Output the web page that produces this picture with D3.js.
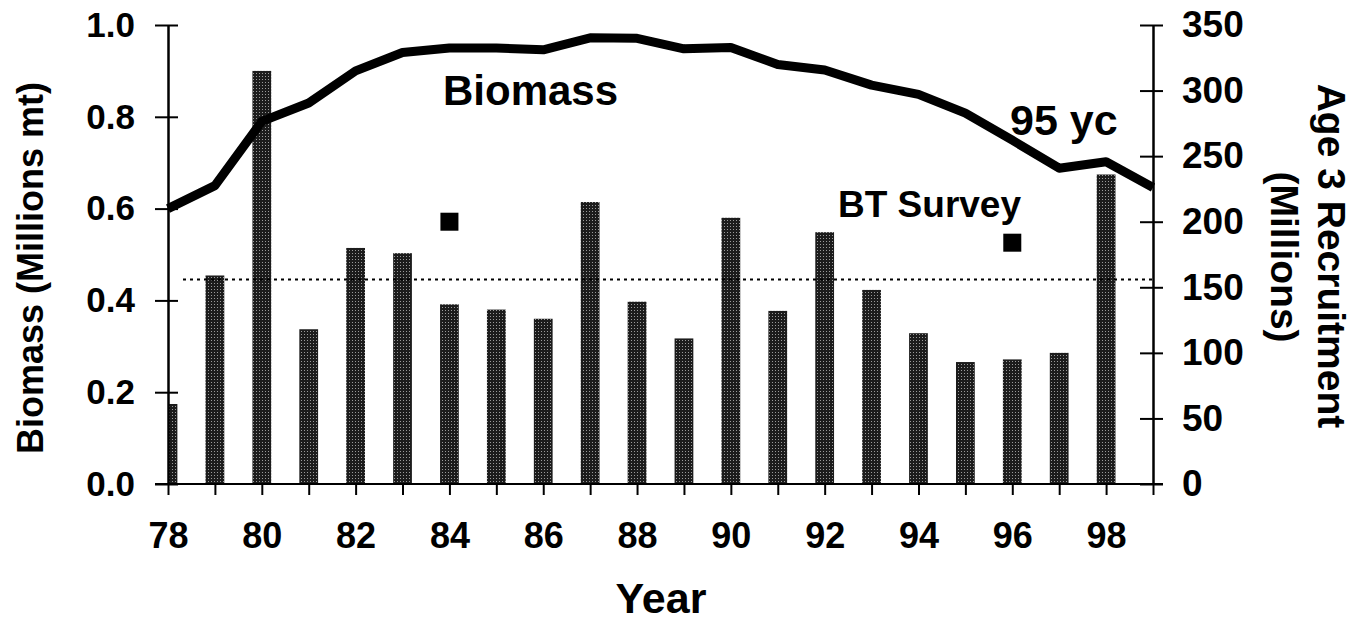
<!DOCTYPE html>
<html>
<head>
<meta charset="utf-8">
<script src="https://cdn.jsdelivr.net/npm/d3@7"></script>
<style>
  body { margin: 0; background: #fff; }
  text { font-family: "Liberation Sans", Arial, sans-serif; font-weight: bold; fill: #000; }
</style>
</head>
<body>
<div id="chart1"></div>
<script>
var w = 1356;
var h = 623;

// data
var years = [78, 79, 80, 81, 82, 83, 84, 85, 86, 87, 88, 89, 90, 91, 92, 93, 94, 95, 96, 97, 98];
var recruitment = [61, 159, 315, 118, 180, 176, 137, 133, 126, 215, 139, 111, 203, 132, 192, 148, 115, 93, 95, 100, 236];
var biomassYears = [78, 79, 80, 81, 82, 83, 84, 85, 86, 87, 88, 89, 90, 91, 92, 93, 94, 95, 96, 97, 98, 99];
var biomass = [0.60, 0.65, 0.79, 0.83, 0.90, 0.94, 0.95, 0.95, 0.946, 0.972, 0.971, 0.948, 0.951, 0.914, 0.902, 0.869, 0.849, 0.808, 0.749, 0.688, 0.702, 0.646];
var surveyYears = [84, 96];
var surveyValues = [200, 184];
var refLevel = 156;
var leftTicks = [0, 0.2, 0.4, 0.6, 0.8, 1.0];
var rightTicks = [0, 50, 100, 150, 200, 250, 300, 350];
var xTickLabels = [78, 80, 82, 84, 86, 88, 90, 92, 94, 96, 98];

var x0 = 168, x1 = 1153, yTop = 25, yBot = 484;

var xScale = d3.scaleLinear().domain([78, 99]).range([x0, x1]);
var yLeft = d3.scaleLinear().domain([0, 1]).range([yBot, yTop]);
var yRight = d3.scaleLinear().domain([0, 350]).range([yBot, yTop]);
var barW = (xScale(79) - xScale(78)) * 0.4;

var svg1 = d3.select("#chart1").append("svg")
  .attr("width", w)
  .attr("height", h);

var defs = svg1.append("defs");
var pat = defs.append("pattern")
  .attr("id", "stipple")
  .attr("patternUnits", "userSpaceOnUse")
  .attr("width", 3).attr("height", 3);
pat.append("rect").attr("width", 3).attr("height", 3).attr("fill", "#1c1c1c");
pat.append("rect").attr("x", 1).attr("y", 1).attr("width", 1).attr("height", 1).attr("fill", "#9a9a9a");

defs.append("clipPath").attr("id", "plot")
  .append("rect")
  .attr("x", x0).attr("y", 0)
  .attr("width", x1 - x0).attr("height", yBot);

// bars
svg1.append("g")
  .attr("clip-path", "url(#plot)")
  .selectAll("rect")
  .data(years)
  .enter()
  .append("rect")
  .attr("x", d => xScale(d) - barW / 2)
  .attr("y", (d, i) => yRight(recruitment[i]))
  .attr("width", barW)
  .attr("height", (d, i) => yBot - yRight(recruitment[i]))
  .attr("fill", "url(#stipple)");

// dotted reference line
svg1.append("line")
  .attr("x1", 183).attr("x2", x1)
  .attr("y1", yRight(refLevel)).attr("y2", yRight(refLevel))
  .attr("stroke", "#000")
  .attr("stroke-width", 2)
  .attr("stroke-dasharray", "3,4");

// axes
var axL = svg1.append("g")
  .attr("transform", "translate(" + x0 + ",0)")
  .call(d3.axisLeft(yLeft).tickValues(leftTicks).tickFormat(d3.format(".1f")).tickSizeOuter(0));
axL.selectAll(".tick line").attr("x1", 10).attr("x2", -13);
axL.selectAll(".tick text").attr("x", -33).style("font-size", "35px");

var axR = svg1.append("g")
  .attr("transform", "translate(" + x1 + ",0)")
  .call(d3.axisRight(yRight).tickValues(rightTicks).tickSizeOuter(0));
axR.selectAll(".tick line").attr("x1", -13).attr("x2", 10);
axR.selectAll(".tick text").attr("x", 29).style("font-size", "37px");

var axB = svg1.append("g")
  .attr("transform", "translate(0," + yBot + ")")
  .call(d3.axisBottom(xScale).tickValues(biomassYears)
    .tickFormat(d => xTickLabels.indexOf(d) >= 0 ? d : "")
    .tickSize(11));
axB.select(".domain").remove();
axB.selectAll(".tick text").attr("y", 64).attr("dy", 0).style("font-size", "36px");
axB.append("line")
  .attr("x1", 155).attr("x2", 1163)
  .attr("stroke", "#000").attr("stroke-width", 2);

svg1.selectAll(".domain").attr("stroke-width", 2.5);
svg1.selectAll(".tick line").attr("stroke-width", 2);

// biomass line
var line = d3.line()
  .x((d, i) => xScale(biomassYears[i]))
  .y(d => yLeft(d));

svg1.append("path")
  .datum(biomass)
  .attr("d", line)
  .attr("fill", "none")
  .attr("stroke", "#000")
  .attr("stroke-width", 9)
  .attr("stroke-linejoin", "round");

// BT survey points
svg1.selectAll(".survey")
  .data(surveyYears)
  .enter()
  .append("rect")
  .attr("class", "survey")
  .attr("x", d => xScale(d) - 9)
  .attr("y", (d, i) => yRight(surveyValues[i]) - 9)
  .attr("width", 18)
  .attr("height", 18)
  .attr("fill", "#000");

// labels
svg1.append("text").attr("x", 443).attr("y", 105).style("font-size", "42px").text("Biomass");
svg1.append("text").attr("x", 1010).attr("y", 135).style("font-size", "43px").text("95 yc");
svg1.append("text").attr("x", 838).attr("y", 217).style("font-size", "37px").text("BT Survey");

svg1.append("text")
  .attr("x", 661).attr("y", 613)
  .attr("text-anchor", "middle")
  .style("font-size", "43px")
  .text("Year");

svg1.append("text")
  .attr("transform", "translate(43,268) rotate(-90)")
  .attr("text-anchor", "middle")
  .style("font-size", "36px")
  .text("Biomass (Millions mt)");

svg1.append("text")
  .attr("transform", "translate(1318,256) rotate(90)")
  .attr("text-anchor", "middle")
  .style("font-size", "39px")
  .text("Age 3 Recruitment");

svg1.append("text")
  .attr("transform", "translate(1271,257) rotate(90)")
  .attr("text-anchor", "middle")
  .style("font-size", "39px")
  .text("(Millions)");
</script>
</body>
</html>
